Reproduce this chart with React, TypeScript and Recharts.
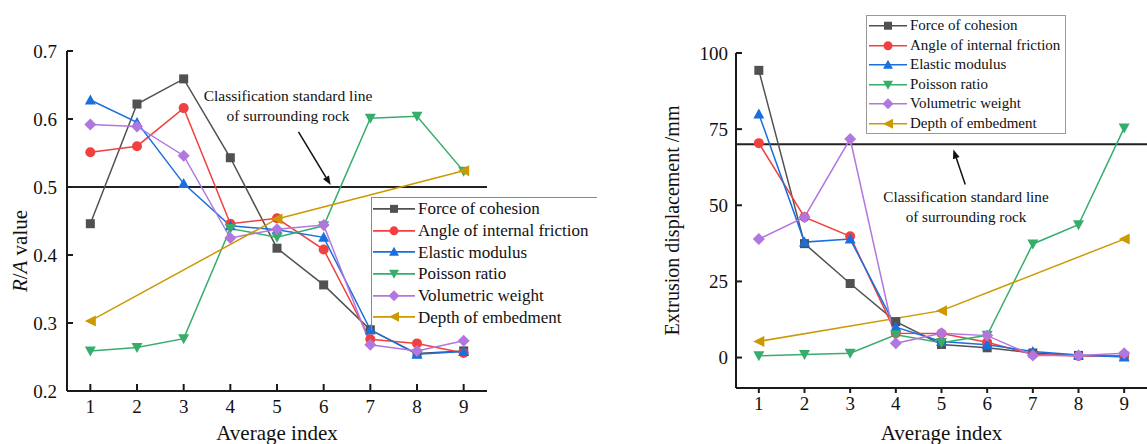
import React from "react"
import { LineChart, Line, XAxis, YAxis, ReferenceLine } from "recharts"

// x categories (average index)
const indices = [1, 2, 3, 4, 5, 6, 7, 8, 9]

// left panel: R/A value
const raCohesion = [0.446, 0.622, 0.659, 0.543, 0.41, 0.356, 0.29, 0.255, 0.259]
const raFriction = [0.551, 0.56, 0.616, 0.446, 0.454, 0.408, 0.276, 0.27, 0.256]
const raModulus = [0.628, 0.595, 0.505, 0.443, 0.437, 0.426, 0.29, 0.254, 0.258]
const raPoisson = [0.259, 0.264, 0.277, 0.439, 0.426, 0.443, 0.601, 0.604, 0.523]
const raWeight = [0.592, 0.589, 0.546, 0.425, 0.438, 0.444, 0.268, 0.259, 0.274]
const raDepth = [0.303, null, null, null, 0.453, null, null, null, 0.524]
const raTicks = [0.2, 0.3, 0.4, 0.5, 0.6, 0.7]

// right panel: extrusion displacement /mm
const dCohesion = [94.3, 37.4, 24.3, 11.8, 4.3, 3.2, 1.5, 0.7, 0.5]
const dFriction = [70.4, 46.1, 39.8, 8.0, 7.9, 5.0, 1.0, 0.5, 0.6]
const dModulus = [80.0, 37.9, 38.9, 10.0, 5.3, 4.2, 2.0, 0.8, 0.2]
const dPoisson = [0.6, 1.0, 1.4, 7.5, 4.9, 7.3, 37.3, 43.6, 75.4]
const dWeight = [38.9, 46.1, 71.8, 4.7, 8.0, 7.2, 0.7, 0.7, 1.4]
const dDepth = [5.3, null, null, null, 15.4, null, null, null, 38.9]
const dTicks = [0, 25, 50, 75, 100]

const seriesNames = [
  "Force of cohesion",
  "Angle of internal friction",
  "Elastic modulus",
  "Poisson ratio",
  "Volumetric weight",
  "Depth of embedment",
]
const seriesKeys = ["coh", "fri", "mod", "poi", "wei", "dep"]
const seriesColors = ["#515151", "#F14040", "#1A6FDF", "#37AD6B", "#B177DE", "#CC9900"]
const seriesMarkers = ["square", "circle", "up", "down", "diamond", "left"]

const buildRows = (cols: (number | null)[][]) =>
  indices.map((x, i) => {
    const row: Record<string, number | null> = { x }
    seriesKeys.forEach((k, j) => (row[k] = cols[j][i]))
    return row
  })

const leftRows = buildRows([raCohesion, raFriction, raModulus, raPoisson, raWeight, raDepth])
const rightRows = buildRows([dCohesion, dFriction, dModulus, dPoisson, dWeight, dDepth])

const FONT = "'Liberation Serif', 'Times New Roman', serif"
const AXIS = "#1a1a1a"

function MarkerShape({ cx, cy, kind, color, s = 9 }: { cx: number; cy: number; kind: string; color: string; s?: number }) {
  const h = s / 2
  switch (kind) {
    case "square":
      return <rect x={cx - h} y={cy - h} width={s} height={s} fill={color} />
    case "circle":
      return <circle cx={cx} cy={cy} r={h + 0.5} fill={color} />
    case "up":
      return <polygon points={`${cx},${cy - h - 1} ${cx - h - 1},${cy + h} ${cx + h + 1},${cy + h}`} fill={color} />
    case "down":
      return <polygon points={`${cx},${cy + h + 1} ${cx - h - 1},${cy - h} ${cx + h + 1},${cy - h}`} fill={color} />
    case "diamond":
      return <polygon points={`${cx},${cy - h - 1.5} ${cx + h + 1.5},${cy} ${cx},${cy + h + 1.5} ${cx - h - 1.5},${cy}`} fill={color} />
    default:
      return <polygon points={`${cx - h - 1},${cy} ${cx + h + 1},${cy - h - 1} ${cx + h + 1},${cy + h + 1}`} fill={color} />
  }
}

const makeDot = (kind: string, color: string) => (props: any) => {
  const { cx, cy, index, value } = props
  if (cx == null || cy == null || value == null) return <g key={index} />
  return <MarkerShape key={index} cx={cx} cy={cy} kind={kind} color={color} />
}

// arrow drawn along a reference segment, head at the second point
const arrowShape = (props: any) => {
  const { x1, y1, x2, y2 } = props
  if ([x1, y1, x2, y2].some((v) => v == null || isNaN(v))) return <g />
  const ang = Math.atan2(y2 - y1, x2 - x1)
  const L = 9
  const W = 3.5
  const bx = x2 - L * Math.cos(ang)
  const by = y2 - L * Math.sin(ang)
  const px = -Math.sin(ang) * W
  const py = Math.cos(ang) * W
  return (
    <g>
      <line x1={x1} y1={y1} x2={bx} y2={by} stroke="#111" strokeWidth={1.5} />
      <polygon points={`${x2},${y2} ${bx + px},${by + py} ${bx - px},${by - py}`} fill="#111" />
    </g>
  )
}

function RALabel(props: any) {
  const { viewBox } = props
  const cy = viewBox.y + viewBox.height / 2
  return (
    <text x={20} y={cy + 30} transform={`rotate(-90, 20, ${cy + 30})`} textAnchor="middle" dominantBaseline="central" fontSize={21} fill="#111" fontFamily={FONT}>
      <tspan fontStyle="italic">R</tspan>
      <tspan>/</tspan>
      <tspan fontStyle="italic">A</tspan>
      <tspan> value</tspan>
    </text>
  )
}

function LegendList({ left, top, rowH, fontSize, lineW, border }: { left: number; top: number; rowH: number; fontSize: number; lineW: number; border: React.CSSProperties }) {
  return (
    <div style={{ position: "absolute", left, top, fontFamily: FONT, fontSize, color: "#111", ...border }}>
      {seriesNames.map((name, i) => (
        <div key={name} style={{ display: "flex", alignItems: "center", height: rowH, whiteSpace: "nowrap" }}>
          <svg width={lineW + 4} height={rowH} style={{ flex: "none" }}>
            <line x1={1} x2={lineW + 1} y1={rowH / 2} y2={rowH / 2} stroke={seriesColors[i]} strokeWidth={1.6} />
            <MarkerShape cx={lineW / 2 + 1} cy={rowH / 2} kind={seriesMarkers[i]} color={seriesColors[i]} s={8} />
          </svg>
          <span style={{ lineHeight: 1 }}>{name}</span>
        </div>
      ))}
    </div>
  )
}

const noteStyle: React.CSSProperties = {
  position: "absolute",
  fontFamily: FONT,
  lineHeight: "20px",
  textAlign: "center",
  color: "#111",
  whiteSpace: "nowrap",
}

export default function App() {
  const lines = (rows: any[]) =>
    seriesKeys.map((k, i) => (
      <Line
        key={k}
        type="linear"
        dataKey={k}
        stroke={seriesColors[i]}
        strokeWidth={1.5}
        dot={makeDot(seriesMarkers[i], seriesColors[i])}
        activeDot={false}
        connectNulls
        isAnimationActive={false}
      />
    ))

  return (
    <div style={{ position: "absolute", left: 0, top: 0, width: 1147, height: 444, background: "#fff", fontFamily: FONT, overflow: "hidden" }}>
      <div style={{ position: "absolute", left: 0, top: 0 }}>
        <LineChart width={620} height={444} data={leftRows} margin={{ top: 51, right: 133, bottom: 0, left: 0 }} style={{ fontFamily: FONT }}>
          <XAxis
            dataKey="x"
            type="number"
            domain={[0.5, 9.5]}
            ticks={indices}
            height={53}
            stroke={AXIS}
            strokeWidth={2}
            tickSize={-7}
            tickMargin={16}
            tick={{ fill: "#111", fontSize: 19 }}
            label={{ value: "Average index", position: "insideBottom", offset: 4, fill: "#111", fontSize: 21 }}
          />
          <YAxis
            type="number"
            domain={[0.2, 0.7]}
            ticks={raTicks}
            width={67}
            stroke={AXIS}
            strokeWidth={2}
            tickSize={-6}
            tickMargin={16}
            tick={{ fill: "#111", fontSize: 19 }}
            tickFormatter={(v) => v.toFixed(1)}
            label={<RALabel />}
          />
          <ReferenceLine y={0.5} stroke="#222" strokeWidth={2} />
          <ReferenceLine segment={[{ x: 5.46, y: 0.581 }, { x: 6.15, y: 0.503 }]} shape={arrowShape} ifOverflow="visible" />
          {lines(leftRows)}
        </LineChart>
      </div>

      <div style={{ position: "absolute", left: 620, top: 0 }}>
        <LineChart width={527} height={444} data={rightRows} margin={{ top: 53, right: 0, bottom: 0, left: 0 }} style={{ fontFamily: FONT }}>
          <XAxis
            dataKey="x"
            type="number"
            domain={[0.5, 9.5]}
            ticks={indices}
            height={56}
            stroke={AXIS}
            strokeWidth={2}
            tickSize={5}
            tickMargin={4}
            tick={{ fill: "#111", fontSize: 19 }}
            label={{ value: "Average index", position: "insideBottom", offset: 4, fill: "#111", fontSize: 21 }}
          />
          <YAxis
            type="number"
            domain={[-10, 100]}
            ticks={dTicks}
            width={116}
            stroke={AXIS}
            strokeWidth={2}
            tickSize={-6}
            tickMargin={14}
            tick={{ fill: "#111", fontSize: 19 }}
            label={{ value: "Extrusion displacement /mm", angle: -90, position: "insideLeft", offset: 52, fill: "#111", fontSize: 20, style: { textAnchor: "middle" } }}
          />
          <ReferenceLine y={70} stroke="#222" strokeWidth={2} />
          <ReferenceLine segment={[{ x: 5.52, y: 56.8 }, { x: 5.26, y: 68.3 }]} shape={arrowShape} ifOverflow="visible" />
          {lines(rightRows)}
        </LineChart>
      </div>

      <LegendList left={371} top={197} rowH={21.7} fontSize={17} lineW={42} border={{ borderTop: "1.5px solid #888", borderLeft: "1.5px solid #888", width: 226, height: 133, boxSizing: "border-box" }} />
      <LegendList left={866} top={15} rowH={19.5} fontSize={15} lineW={38} border={{ border: "1.5px solid #999", width: 200, height: 119, boxSizing: "border-box", paddingLeft: 1 }} />

      <div style={{ ...noteStyle, fontSize: 15.5, left: 188, top: 86, width: 200 }}>
        Classification standard line
        <br />
        of surrounding rock
      </div>
      <div style={{ ...noteStyle, fontSize: 15.2, left: 866, top: 187, width: 200 }}>
        Classification standard line
        <br />
        of surrounding rock
      </div>
    </div>
  )
}
